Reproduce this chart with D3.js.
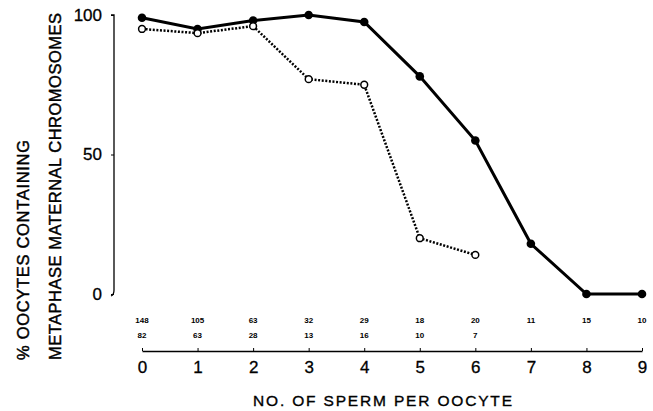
<!DOCTYPE html>
<html><head><meta charset="utf-8">
<script src="https://cdn.jsdelivr.net/npm/d3@7"></script>
<style>body{margin:0;background:#fff}svg{display:block;font-family:"Liberation Sans",Arial,sans-serif}</style>
</head><body><svg id="c" width="653" height="411"></svg>
<script>
const spermCounts = [0,1,2,3,4,5,6,7,8,9];
const filledValues = [99,95,98,100,97.5,78,55,18,0,0];
const openX = [0,1,2,3,4,5,6];
const openValues = [95,93.5,96,77,75,20,14];
const nFilled = ["148","105","63","32","29","18","20","11","15","10"];
const nOpen = ["82","63","28","13","16","10","7"];
const yTicks = [0,50,100];

const svg = d3.select("#c");
const x = d3.scaleLinear().domain([0,9]).range([142,642]);
const y = d3.scaleLinear().domain([0,100]).range([294,15]);

// y axis
const ya = svg.append("g").attr("transform","translate(114,0)")
  .call(d3.axisLeft(y).tickValues(yTicks).tickSize(3).tickPadding(9).tickFormat(d3.format("d")));
ya.select(".domain").attr("d","M-3,"+y(100)+"H0V"+(y(0)-4)+"Q0,"+(y(0)+1)+" -3,"+(y(0)+2)).attr("fill","none").attr("stroke","#000").attr("stroke-width",1.3);
ya.selectAll("text").attr("font-size",17).attr("fill","#000").attr("stroke","#000").attr("stroke-width",0.3).attr("font-family","Liberation Sans, Arial, sans-serif");

// x axis
const xa = svg.append("g").attr("transform","translate(0,351)")
  .call(d3.axisBottom(x).tickValues(spermCounts).tickSize(0).tickPadding(10).tickFormat(d3.format("d")));
xa.select(".domain").attr("stroke","#000").attr("stroke-width",1.5);
xa.selectAll(".tick line").attr("y1",-3).attr("y2",0).attr("stroke","#000");
xa.selectAll("text").attr("font-size",17).attr("fill","#000").attr("stroke","#000").attr("stroke-width",0.3).attr("font-family","Liberation Sans, Arial, sans-serif");

// sample counts
svg.append("g").selectAll("text").data(nFilled).join("text")
  .attr("x",(d,i)=>x(spermCounts[i])).attr("y",323).attr("text-anchor","middle")
  .attr("font-size",8).attr("font-weight","bold").text(d=>d);
svg.append("g").selectAll("text").data(nOpen).join("text")
  .attr("x",(d,i)=>x(openX[i])).attr("y",338).attr("text-anchor","middle")
  .attr("font-size",8).attr("font-weight","bold").text(d=>d);

// lines
const lineF = d3.line().x((d,i)=>x(spermCounts[i])).y(d=>y(d));
svg.append("path").datum(filledValues).attr("d",lineF).attr("fill","none").attr("stroke","#000").attr("stroke-width",3);
const lineO = d3.line().x((d,i)=>x(openX[i])).y(d=>y(d));
svg.append("path").datum(openValues).attr("d",lineO).attr("fill","none").attr("stroke","#000").attr("stroke-width",2.5).attr("stroke-dasharray","2,1.6");

svg.append("g").selectAll("circle").data(filledValues).join("circle")
  .attr("cx",(d,i)=>x(spermCounts[i])).attr("cy",d=>y(d)).attr("r",4.3).attr("fill","#000");
svg.append("g").selectAll("circle").data(openValues).join("circle")
  .attr("cx",(d,i)=>x(openX[i])).attr("cy",d=>y(d)).attr("r",3.4).attr("fill","#fff").attr("stroke","#000").attr("stroke-width",1.5);

// titles
svg.append("text").attr("x",253).attr("y",406).attr("font-size",15.5)
  .attr("textLength",259).attr("lengthAdjust","spacing")
  .attr("stroke","#000").attr("stroke-width",0.35).text("NO. OF SPERM PER OOCYTE");
const yt = svg.append("g").attr("transform","rotate(-90)").attr("font-size",16.5)
  .attr("stroke","#000").attr("stroke-width",0.45);
yt.append("text").attr("x",-360).attr("y",29).attr("textLength",220).attr("lengthAdjust","spacing").text("% OOCYTES CONTAINING");
yt.append("text").attr("x",-360).attr("y",61).attr("textLength",347).attr("lengthAdjust","spacing").text("METAPHASE MATERNAL CHROMOSOMES");
</script></body></html>
